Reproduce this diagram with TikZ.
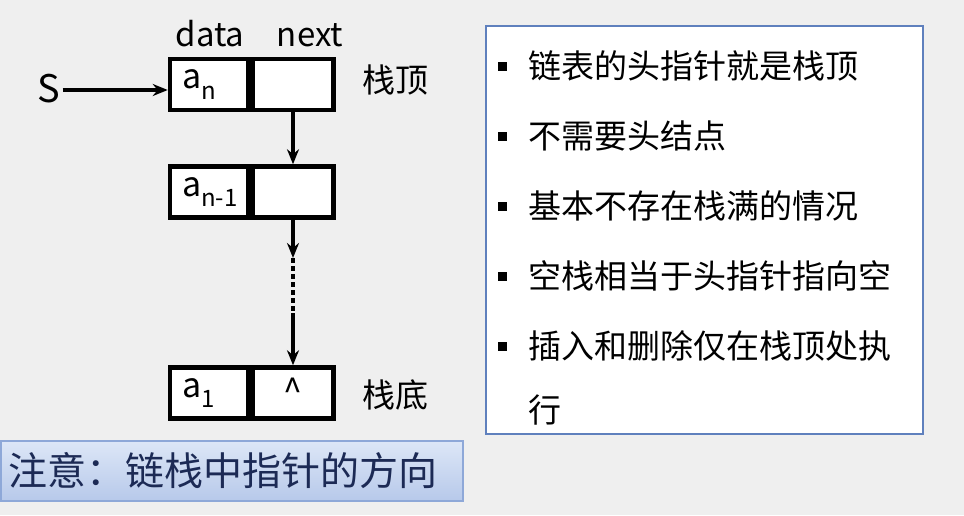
\documentclass[tikz,border=0pt]{standalone}
\usepackage{fontspec}
\setmainfont{Noto Sans CJK SC}
\newfontfamily\cjk{Noto Sans CJK SC}
\usetikzlibrary{arrows.meta,positioning}
\definecolor{bggray}{HTML}{EFEFEF}
\definecolor{frameblue}{HTML}{5F80BD}
\definecolor{notenavy}{HTML}{1C2A55}
\definecolor{notetop}{HTML}{DDE7F7}
\definecolor{notebot}{HTML}{B7C9EA}
\definecolor{noteedge}{HTML}{8EA8D8}
\newcommand{\lowidx}[1]{\raisebox{-0.32em}{\fontsize{24}{24}\selectfont #1}}
\tikzset{
  cell/.style={draw=black,line width=4.5pt,fill=white,minimum height=51pt,inner sep=0pt,
    font=\fontsize{34}{34}\selectfont},
  datacell/.style={cell,minimum width=78pt,text width=54pt,align=left},
  ptr/.style={line width=3.5pt,-{Stealth[length=15pt,width=12pt]}},
  sqbullet/.style={fill=black,minimum size=9pt,inner sep=0pt},
  item/.style={anchor=west,inner sep=0pt,font=\cjk\fontsize{33}{33}\selectfont},
  field/.style={anchor=base,inner sep=0pt,font=\fontsize{33}{33}\selectfont},
}
\begin{document}
\begin{tikzpicture}[x=1pt,y=-1pt]
  \fill[bggray] (0,0) rectangle (964,515);
  \useasboundingbox (0,0) rectangle (964,515);

  % list nodes
  \node[field] (datalbl) at (210,46) {data};
  \node[field] (nextlbl) at (310,46) {next};
  \node[datacell] (an) at (209,84.5) {a\lowidx{n}};
  \node[cell,minimum width=81pt,right=0pt of an] (annext) {};
  \node[datacell] (anm) at (209,192) {a\lowidx{n-1}};
  \node[cell,minimum width=81pt,right=0pt of anm] (anmnext) {};
  \node[datacell] (aone) at (209,393) {a\lowidx{1}};
  \node[cell,minimum width=81pt,right=0pt of aone] (aonenext) {\raisebox{0.15em}{\textasciicircum}};

  \node[inner sep=2pt,font=\fontsize{38}{38}\selectfont] (S) at (49,89) {S};
  \node[inner sep=0pt,font=\cjk\fontsize{33}{33}\selectfont] (top) at (395,80) {栈顶};
  \node[inner sep=0pt,font=\cjk\fontsize{33}{33}\selectfont] (bottom) at (395,395) {栈底};

  % pointers
  \coordinate (gaptop) at (annext.south |- 0,258);
  \coordinate (gapbot) at (annext.south |- 0,313);
  \draw[ptr] (S.east |- 0,90) -- (an.west |- 0,90);
  \draw[ptr] (annext.south) -- (anmnext.north);
  \draw[ptr] (anmnext.south) -- (gaptop);
  \draw[line width=3.5pt,dash pattern=on 5pt off 3pt] (gaptop) -- (gapbot);
  \draw[ptr] (gapbot) -- (aonenext.north);

  % notes on the right
  \node[draw=frameblue,line width=2pt,fill=white,minimum width=437pt,minimum height=408pt]
    (infobox) at (704,229.5) {};
  \foreach \y/\txt in {66/链表的头指针就是栈顶,136/不需要头结点,206/基本不存在栈满的情况,
                       276/空栈相当于头指针指向空,346/插入和删除仅在栈顶处执} {
    \node[sqbullet] (b\y) at (502,\y) {};
    \node[item] (t\y) at (528,\y) {\txt};
  }
  \node[item] (t412) at (528,410) {行};

  % banner
  \node[draw=noteedge,line width=1.5pt,top color=notetop,bottom color=notebot,
        anchor=north west,minimum height=60pt,text width=446pt,inner xsep=8pt,
        text=notenavy,font=\cjk\fontsize{39}{39}\selectfont] (note) at (0,440) {注意：链栈中指针的方向};
\end{tikzpicture}
\end{document}
